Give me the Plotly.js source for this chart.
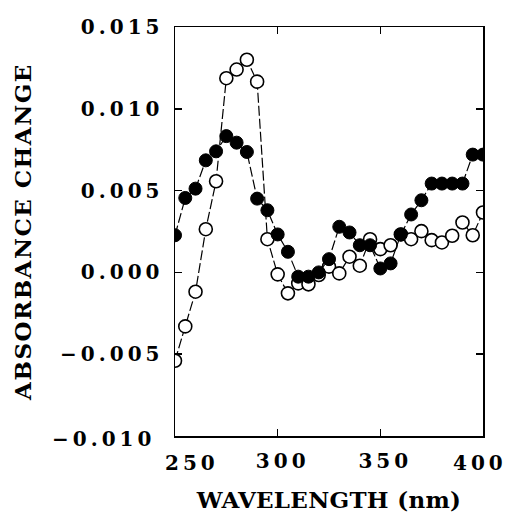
<!DOCTYPE html>
<html><head><meta charset="utf-8">
<script src="https://cdn.plot.ly/plotly-3.0.1.min.js"></script>
<style>
html,body{margin:0;padding:0;background:#fff;}
#chart{width:509px;height:522px;}
g.xtick text, g.ytick text, g.annotation-text-g text { letter-spacing: 4px; }
g.g-ytitle text { letter-spacing: 1.5px; }
g.g-xtitle text { letter-spacing: 0.3px; }
</style></head><body><div id="chart"></div>
<script>
const wavelength = [250,255,260,265,270,275,280,285,290,295,300,305,310,315,320,325,330,335,340,345,350,355,360,365,370,375,380,385,390,395,400];
const filledValues = [0.00227,0.00455,0.00512,0.00685,0.0074,0.00833,0.00793,0.00736,0.00451,0.0038,0.00232,0.00126,-0.00026,-0.00026,0.0,0.00081,0.00279,0.00244,0.00166,0.00166,0.00024,0.00055,0.00232,0.00354,0.00441,0.00543,0.00543,0.00543,0.00543,0.0072,0.0072];
const openValues = [-0.0054,-0.0033,-0.00118,0.00264,0.00557,0.01187,0.0124,0.013,0.01166,0.00203,-0.00012,-0.00128,-0.00067,-0.00073,-0.00016,0.00035,-0.00006,0.00096,0.00041,0.00203,0.00142,0.00166,0.00232,0.00203,0.00252,0.00197,0.00183,0.00224,0.00305,0.00227,0.00366];
const xTickVals = [300,350];
const xTickText = ['300','350'];
const xEdgeTickVals = [250,400];
const xEdgeTickText = ['250','400'];
const yTickVals = [-0.005,0,0.005,0.010,0.015];
const yTickText = ['\u22120.005','0.000','0.005','0.010','0.015'];
const yEdgeTickVal = -0.010;
const yEdgeTickText = '\u22120.010';

const FONT = 'DejaVu Serif';
const tickFont = {family: FONT, size: 20, color: '#000', weight: 'bold'};

const traces = [
  {x: wavelength, y: openValues, type: 'scatter', mode: 'lines+markers', name: 'open',
   line: {color: '#000', width: 1.2, dash: '10px,3px'},
   marker: {symbol: 'circle', size: 13, color: '#fff', line: {color: '#000', width: 1.6}}},
  {x: wavelength, y: filledValues, type: 'scatter', mode: 'lines+markers', name: 'filled',
   line: {color: '#000', width: 1.2, dash: '10px,3px'},
   marker: {symbol: 'circle', size: 13, color: '#000', line: {color: '#000', width: 1}}}
];

const annotations = [
  {x: xEdgeTickVals[0], xref: 'x', y: 0, yref: 'paper', text: xEdgeTickText[0], showarrow: false,
   xanchor: 'center', yanchor: 'top', xshift: 17, yshift: -13, font: tickFont},
  {x: xEdgeTickVals[1], xref: 'x', y: 0, yref: 'paper', text: xEdgeTickText[1], showarrow: false,
   xanchor: 'center', yanchor: 'top', xshift: -3, yshift: -13, font: tickFont},
  {x: 0, xref: 'paper', y: yEdgeTickVal, yref: 'y', text: yEdgeTickText, showarrow: false,
   xanchor: 'right', yanchor: 'middle', xshift: -30, yshift: -3, font: tickFont}
];

const layout = {
  width: 509, height: 522,
  margin: {l: 175, r: 26, t: 27, b: 86},
  paper_bgcolor: '#fff', plot_bgcolor: '#fff',
  showlegend: false,
  annotations: annotations,
  xaxis: {range: [250,400], showgrid: false, zeroline: false, tickfont: tickFont,
    tickvals: xTickVals, ticktext: xTickText, ticks: 'inside', ticklen: 7, tickwidth: 1.5, tickcolor: '#000',
    showline: true, linecolor: '#000', linewidth: 1.5, mirror: 'ticks', ticklabelstandoff: 6, ticklabelshift: 5,
    title: {text: 'WAVELENGTH (nm)', font: {family: FONT, size: 23, color: '#000', weight: 'bold'}, standoff: 20}
  },
  yaxis: {range: [-0.010, 0.015], tickvals: yTickVals, ticktext: yTickText, showgrid: false, zeroline: false,
    ticks: 'inside', ticklen: 7, tickwidth: 1.5, tickcolor: '#000', showline: true, linecolor: '#000', linewidth: 1.5,
    mirror: 'ticks', tickfont: tickFont, ticklabelstandoff: 6,
    title: {text: 'ABSORBANCE CHANGE', font: {family: FONT, size: 23, color: '#000', weight: 'bold'}, standoff: 22}}
};
Plotly.newPlot('chart', traces, layout, {displayModeBar: false, staticPlot: true});
</script></body></html>
